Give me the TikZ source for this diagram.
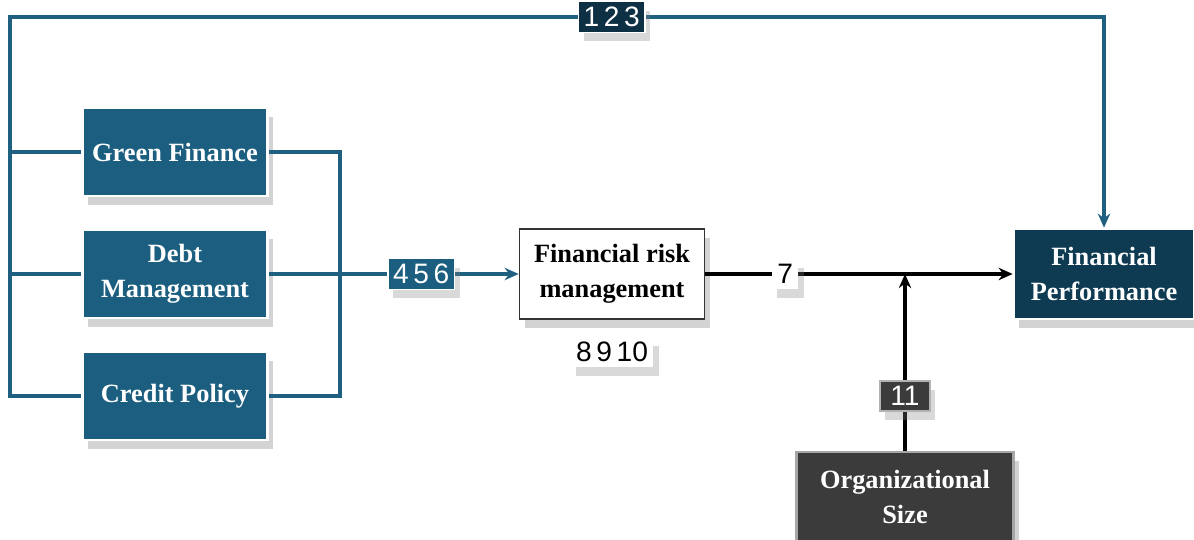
\documentclass[tikz,border=0pt]{standalone}
\usepackage{fontspec}
\setmainfont{Liberation Serif}
\setsansfont{Liberation Sans}
\usetikzlibrary{positioning, arrows.meta, calc, shadows}

\definecolor{boxblue}{HTML}{1B5E7F}
\definecolor{lineblue}{HTML}{1F5F80}
\definecolor{navy}{HTML}{0E3A52}
\definecolor{darknavy}{HTML}{0D3044}
\definecolor{darkgray}{HTML}{3B3B3B}

\begin{document}
\begin{tikzpicture}[
    % Node styles
    mainbox/.style={
        rectangle, minimum width=3.7cm, minimum height=1.76cm,
        font=\fontsize{15}{20}\selectfont\bfseries, align=center,
        draw=white, line width=1.5pt,
        drop shadow={shadow xshift=3pt, shadow yshift=-5pt, opacity=0.35}
    },
    inbox/.style={mainbox, fill=boxblue, text=white},
    riskbox/.style={mainbox, fill=white, draw=black!80, line width=0.9pt, text=black},
    perfbox/.style={mainbox, fill=navy, text=white, minimum width=3.6cm, minimum height=1.8cm},
    sizebox/.style={mainbox, fill=darkgray, draw=gray!70, text=white, minimum width=4.34cm, minimum height=1.8cm},
    % Small number labels on the connectors
    numlabel/.style={
        font=\sffamily\fontsize{16}{18}\selectfont, inner sep=3pt,
        minimum height=0.6cm,
        drop shadow={shadow xshift=3pt, shadow yshift=-5pt, opacity=0.3}
    },
    % Arrow styles
    blueline/.style={lineblue, line width=2pt},
    bluearrow/.style={blueline, -{Stealth[length=8pt, width=7pt]}},
    blackarrow/.style={black, line width=2pt, -{Stealth[length=8pt, width=7pt]}},
]

\useasboundingbox (0,0) rectangle (23.88,-10.8);

% ============================================================
% LAYOUT: three inputs on the left, mediator in the middle,
%         outcome on the right, moderator below
% ============================================================

% --- Left column ---
\node[inbox] (green)  at (3.5, -3.04) {Green Finance};
\node[inbox] (debt)   at (3.5, -5.48) {Debt\\Management};
\node[inbox] (credit) at (3.5, -7.92) {Credit Policy};

% --- Middle ---
\node[riskbox, minimum height=1.8cm] (risk) at (12.24, -5.48) {Financial risk\\management};
\node[numlabel, fill=white] (l8910) at (12.24, -7.04) {8\,9\,10};

% --- Right ---
\node[perfbox] (perf) at (22.08, -5.48) {Financial\\Performance};
\node[sizebox] (size) at (18.1, -9.94) {Organizational\\Size};

% --- Helper coordinates ---
\coordinate (topl) at (0.2, -0.34);
\coordinate (busr) at (6.8, -5.48);
\coordinate (join) at (size.north |- risk.east);

% ============================================================
% CONNECTORS
% ============================================================

% 1. Left bus: every input goes up and over to the outcome
\draw[blueline] (green.west) -- (green.west -| topl);
\draw[blueline] (debt.west) -- (debt.west -| topl);
\draw[bluearrow] (credit.west) -| (topl) -- (topl -| perf.north)
    node[pos=0.55, numlabel, fill=darknavy, text=white, draw=white, line width=0.8pt] (l123) {1\,2\,3}
    -- (perf.north);

% 2. Right bus: inputs joined into the mediator
\draw[blueline] (green.east) -| (busr) |- (credit.east);
\draw[bluearrow] (debt.east) -- node[pos=0.61, numlabel, fill=boxblue, text=white, draw=white, line width=0.8pt] (l456) {4\,5\,6} (risk.west);

% 3. Mediator to outcome
\draw[blackarrow] (risk.east) -- node[pos=0.26, numlabel, fill=white] (l7) {7} (perf.west);

% 4. Moderator onto the path
\draw[blackarrow] (size.north) -- node[pos=0.31, numlabel, fill=darkgray, text=white, draw=gray!60, line width=0.8pt, minimum width=1cm] (l11) {11} (join);

\end{tikzpicture}
\end{document}
